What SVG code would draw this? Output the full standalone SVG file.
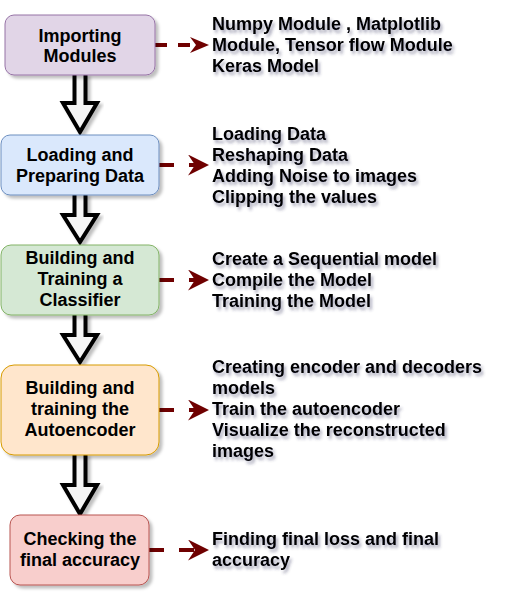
<svg xmlns="http://www.w3.org/2000/svg" width="526" height="598" viewBox="0 0 526 598">
  <style>
    .box { stroke-width: 1; }
    .btxt { font-family: "Liberation Sans", Arial, sans-serif; font-size: 18px; font-weight: bold; fill: #000; text-anchor: middle; }
    .rtxt { font-family: "Liberation Sans", Arial, sans-serif; font-size: 18px; font-weight: bold; fill: #000; }
    .block { fill: #f5f5f5; stroke: #000; stroke-width: 4; stroke-linejoin: miter; stroke-miterlimit: 10; }
    .dash { fill: none; stroke: #6f0000; stroke-width: 4; }
  </style>
  <defs>
    <filter id="bshadow" x="-10%" y="-10%" width="130%" height="140%">
      <feDropShadow dx="3" dy="3" stdDeviation="1.5" flood-color="#000" flood-opacity="0.25"/>
    </filter>
    <filter id="tshadow" x="-5%" y="-10%" width="115%" height="140%">
      <feDropShadow dx="2" dy="3" stdDeviation="1.5" flood-color="#3c3c64" flood-opacity="0.45"/>
    </filter>
    <marker id="headL" markerUnits="userSpaceOnUse" markerWidth="22" markerHeight="22" refX="7" refY="10.5" orient="auto">
      <path d="M0,0 L21,10.5 L0,21 L7,10.5 Z" fill="#6f0000"/>
    </marker>
    <marker id="headS" markerUnits="userSpaceOnUse" markerWidth="20" markerHeight="18" refX="6" refY="8" orient="auto">
      <path d="M0,0 L19,8 L0,16 L6,8 Z" fill="#6f0000"/>
    </marker>
  </defs>

  <g id="connectors">
    <path class="block" filter="url(#bshadow)" d="M74.5,73 L74.5,103 L63,103 L80,132 L97,103 L85.5,103 L85.5,73"/>
    <path class="block" filter="url(#bshadow)" d="M74.5,193 L74.5,215 L63,215 L80,242 L97,215 L85.5,215 L85.5,193"/>
    <path class="block" filter="url(#bshadow)" d="M74.5,313 L74.5,335 L63,335 L80,362 L97,335 L85.5,335 L85.5,313"/>
    <path class="block" filter="url(#bshadow)" d="M74.5,453 L74.5,485 L63,485 L80,514 L97,485 L85.5,485 L85.5,453"/>

    <path class="dash" d="M155,45 L196,45" stroke-dasharray="12 11" marker-end="url(#headS)"/>
    <path class="dash" d="M159,165 L195,165" stroke-dasharray="15 15" marker-end="url(#headL)"/>
    <path class="dash" d="M159,280 L195,280" stroke-dasharray="15 15" marker-end="url(#headL)"/>
    <path class="dash" d="M159,410 L195,410" stroke-dasharray="15 15" marker-end="url(#headL)"/>
    <path class="dash" d="M149,550 L195,550" stroke-dasharray="15 15" marker-end="url(#headL)"/>
  </g>

  <g id="importing">
    <rect class="box" x="5" y="15" width="150" height="60" rx="9" fill="#e1d5e7" stroke="#9673a6" filter="url(#bshadow)"/>
    <text class="btxt" x="80" y="42">Importing</text>
    <text class="btxt" x="80" y="62">Modules</text>
  </g>
  <g id="importing-notes" filter="url(#tshadow)">
    <text class="rtxt" x="212" y="30">Numpy Module , Matplotlib</text>
    <text class="rtxt" x="212" y="51">Module, Tensor flow Module</text>
    <text class="rtxt" x="212" y="72">Keras Model</text>
  </g>

  <g id="loading">
    <rect class="box" x="1" y="135" width="158" height="60" rx="9" fill="#dae8fc" stroke="#6c8ebf" filter="url(#bshadow)"/>
    <text class="btxt" x="80" y="161">Loading and</text>
    <text class="btxt" x="80" y="182">Preparing Data</text>
  </g>
  <g id="loading-notes" filter="url(#tshadow)">
    <text class="rtxt" x="212" y="140">Loading Data</text>
    <text class="rtxt" x="212" y="161">Reshaping Data</text>
    <text class="rtxt" x="212" y="182">Adding Noise to images</text>
    <text class="rtxt" x="212" y="203">Clipping the values</text>
  </g>

  <g id="classifier">
    <rect class="box" x="1" y="245" width="158" height="70" rx="10" fill="#d5e8d4" stroke="#82b366" filter="url(#bshadow)"/>
    <text class="btxt" x="80" y="264">Building and</text>
    <text class="btxt" x="80" y="285">Training a</text>
    <text class="btxt" x="80" y="306">Classifier</text>
  </g>
  <g id="classifier-notes" filter="url(#tshadow)">
    <text class="rtxt" x="212" y="265">Create a Sequential model</text>
    <text class="rtxt" x="212" y="286">Compile the Model</text>
    <text class="rtxt" x="212" y="307">Training the Model</text>
  </g>

  <g id="autoencoder">
    <rect class="box" x="1" y="365" width="158" height="90" rx="13" fill="#ffe6cc" stroke="#d79b00" filter="url(#bshadow)"/>
    <text class="btxt" x="80" y="394">Building and</text>
    <text class="btxt" x="80" y="415">training the</text>
    <text class="btxt" x="80" y="436">Autoencoder</text>
  </g>
  <g id="autoencoder-notes" filter="url(#tshadow)">
    <text class="rtxt" x="212" y="373">Creating encoder and decoders</text>
    <text class="rtxt" x="212" y="394">models</text>
    <text class="rtxt" x="212" y="415">Train the autoencoder</text>
    <text class="rtxt" x="212" y="436">Visualize the reconstructed</text>
    <text class="rtxt" x="212" y="457">images</text>
  </g>

  <g id="accuracy">
    <rect class="box" x="10" y="515" width="139" height="70" rx="10" fill="#f8cecc" stroke="#b85450" filter="url(#bshadow)"/>
    <text class="btxt" x="80" y="545">Checking the</text>
    <text class="btxt" x="80" y="566">final accuracy</text>
  </g>
  <g id="accuracy-notes" filter="url(#tshadow)">
    <text class="rtxt" x="212" y="545">Finding final loss and final</text>
    <text class="rtxt" x="212" y="566">accuracy</text>
  </g>
</svg>
